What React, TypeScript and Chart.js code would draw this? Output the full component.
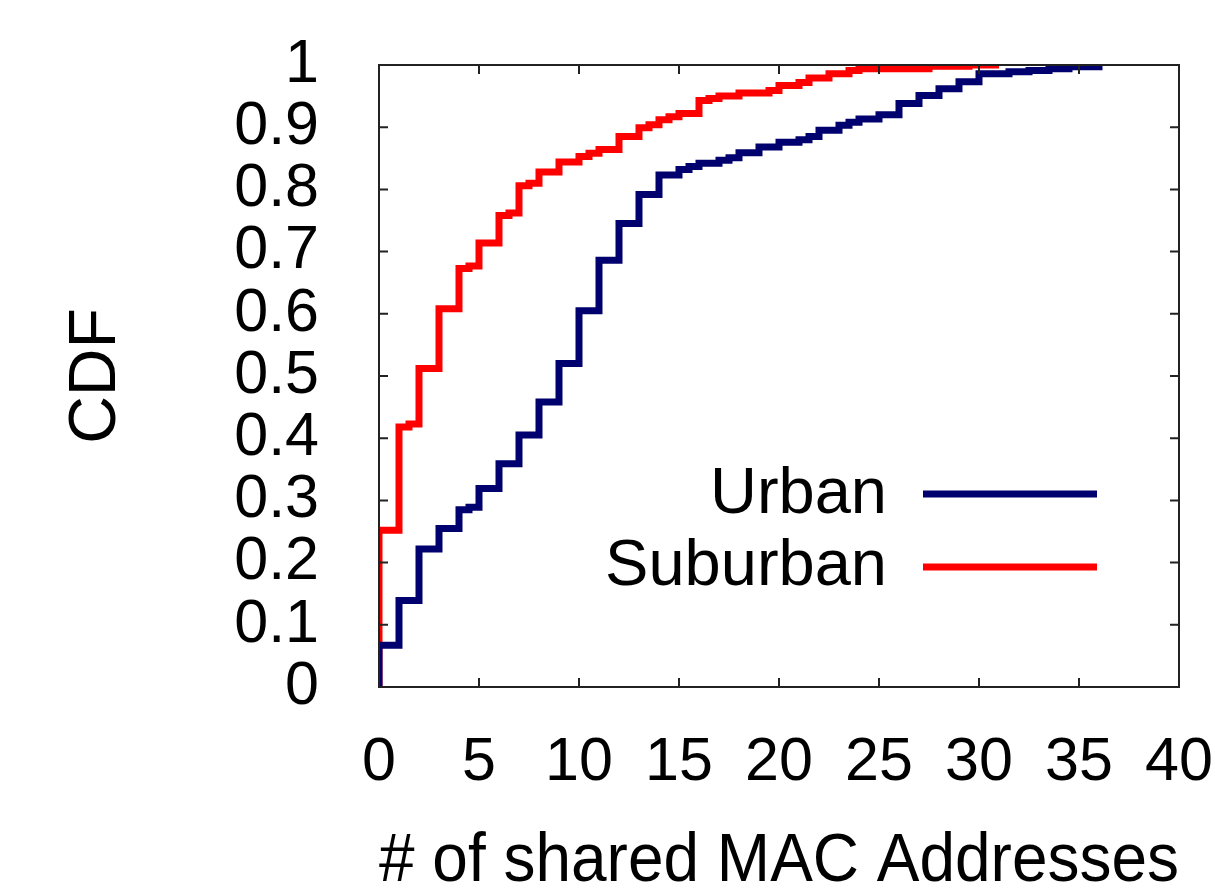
import React, { useEffect, useRef } from 'react';
import { Chart, registerables } from 'chart.js';

Chart.register(...registerables);

const URBAN_X = [0, 0, 1, 2, 3, 4, 4.5, 5, 6, 7, 8, 9, 10, 11, 12, 13, 14, 15, 15.5, 16, 17, 17.5, 18, 19, 20, 21, 21.5, 22, 23, 23.5, 24, 25, 26, 27, 28, 29, 30, 31.5, 32.5, 33.5, 34.5, 36];
const URBAN_Y = [0, 0.067, 0.139, 0.222, 0.255, 0.285, 0.289, 0.319, 0.359, 0.405, 0.458, 0.52, 0.605, 0.686, 0.745, 0.792, 0.823, 0.832, 0.837, 0.842, 0.847, 0.851, 0.859, 0.868, 0.876, 0.88, 0.885, 0.895, 0.903, 0.908, 0.913, 0.92, 0.938, 0.951, 0.962, 0.973, 0.986, 0.989, 0.991, 0.994, 0.997, 1.0];

const SUBURBAN_X = [0, 0, 1, 1.5, 2, 3, 4, 4.5, 5, 6, 6.5, 7, 7.5, 8, 9, 10, 10.5, 11, 12, 13, 13.5, 14, 14.5, 15, 16, 16.5, 17, 18, 19.5, 20, 21, 21.5, 22.5, 23.5, 24, 27.5, 29.5, 31];
const SUBURBAN_Y = [0, 0.252, 0.418, 0.423, 0.512, 0.608, 0.673, 0.677, 0.714, 0.758, 0.762, 0.806, 0.81, 0.828, 0.844, 0.853, 0.858, 0.864, 0.885, 0.899, 0.904, 0.912, 0.917, 0.922, 0.943, 0.946, 0.95, 0.955, 0.959, 0.967, 0.972, 0.979, 0.986, 0.991, 0.994, 0.998, 1.0, 1.0];

const SERIES_LABELS = ['Urban', 'Suburban'];
const SERIES_COLORS = ['#00006e', '#ff0000'];

const X_TICK_LABELS = ['0', '5', '10', '15', '20', '25', '30', '35', '40'];
const Y_TICK_LABELS = ['0', '0.1', '0.2', '0.3', '0.4', '0.5', '0.6', '0.7', '0.8', '0.9', '1'];
const X_TITLE = '# of shared MAC Addresses';
const Y_TITLE = 'CDF';

const FONT = "'Liberation Sans', Arial, Helvetica, sans-serif";

const framePlugin = {
  id: 'frame',
  afterDatasetsDraw(chart: any) {
    const { ctx, chartArea: a, scales } = chart;
    ctx.save();
    ctx.strokeStyle = '#222';
    ctx.lineWidth = 2;
    ctx.strokeRect(a.left, a.top, a.right - a.left, a.bottom - a.top);
    const len = 9;
    ctx.beginPath();
    scales.x.ticks.forEach((t: any) => {
      const px = scales.x.getPixelForValue(t.value);
      ctx.moveTo(px, a.bottom);
      ctx.lineTo(px, a.bottom - len);
      ctx.moveTo(px, a.top);
      ctx.lineTo(px, a.top + len);
    });
    scales.y.ticks.forEach((t: any) => {
      const py = scales.y.getPixelForValue(t.value);
      ctx.moveTo(a.left, py);
      ctx.lineTo(a.left + len, py);
      ctx.moveTo(a.right, py);
      ctx.lineTo(a.right - len, py);
    });
    ctx.stroke();
    ctx.restore();
  },
};

const legendPlugin = {
  id: 'innerLegend',
  afterDatasetsDraw(chart: any) {
    const { ctx } = chart;
    ctx.save();
    ctx.font = `65px ${FONT}`;
    ctx.fillStyle = '#000';
    ctx.textAlign = 'right';
    ctx.textBaseline = 'alphabetic';
    const rows = [
      { textY: 513, lineY: 494 },
      { textY: 585, lineY: 567 },
    ];
    chart.data.datasets.forEach((ds: any, i: number) => {
      const r = rows[i];
      ctx.fillText(ds.label, 887, r.textY);
      ctx.strokeStyle = ds.borderColor;
      ctx.lineWidth = 7;
      ctx.lineCap = 'butt';
      ctx.beginPath();
      ctx.moveTo(923, r.lineY);
      ctx.lineTo(1097, r.lineY);
      ctx.stroke();
    });
    ctx.restore();
  },
};

export default function App() {
  const ref = useRef<HTMLCanvasElement | null>(null);

  useEffect(() => {
    document.body.style.margin = '0';
    const canvas = ref.current;
    if (!canvas) return;
    const toPts = (xs: number[], ys: number[]) => xs.map((x, i) => ({ x, y: ys[i] }));
    const chart = new Chart(canvas, {
      type: 'line',
      data: {
        datasets: [
          {
            label: SERIES_LABELS[0],
            data: toPts(URBAN_X, URBAN_Y),
            borderColor: SERIES_COLORS[0],
            backgroundColor: SERIES_COLORS[0],
            borderWidth: 7,
            pointRadius: 0,
            stepped: 'before',
            fill: false,
            borderCapStyle: 'butt',
            borderJoinStyle: 'miter',
          },
          {
            label: SERIES_LABELS[1],
            data: toPts(SUBURBAN_X, SUBURBAN_Y),
            borderColor: SERIES_COLORS[1],
            backgroundColor: SERIES_COLORS[1],
            borderWidth: 7,
            pointRadius: 0,
            stepped: 'before',
            fill: false,
            borderCapStyle: 'butt',
            borderJoinStyle: 'miter',
          },
        ],
      },
      options: {
        animation: false,
        responsive: false,
        devicePixelRatio: 1,
        layout: { padding: { top: 65, right: 36, left: 0, bottom: 0 } },
        plugins: {
          legend: { display: false },
          tooltip: { enabled: false },
        },
        scales: {
          x: {
            type: 'linear',
            min: 0,
            max: 40,
            grid: { display: false },
            border: { display: false },
            ticks: {
              stepSize: 5,
              padding: 32,
              autoSkip: false,
              color: '#000',
              font: { family: FONT, size: 61 },
              maxRotation: 0,
              callback: (_v: any, i: number) => X_TICK_LABELS[i],
            },
            title: {
              display: true,
              text: X_TITLE,
              color: '#000',
              font: { family: FONT, size: 69, lineHeight: 1 },
              padding: { top: 0, bottom: -4 },
            },
            afterFit: (s: any) => {
              s.height = 205;
              s.paddingLeft = 0;
              s.paddingRight = 0;
            },
          },
          y: {
            type: 'linear',
            min: 0,
            max: 1,
            grid: { display: false },
            border: { display: false },
            ticks: {
              stepSize: 0.1,
              padding: 52,
              autoSkip: false,
              color: '#000',
              font: { family: FONT, size: 61 },
              callback: (_v: any, i: number) => Y_TICK_LABELS[i],
            },
            title: {
              display: true,
              text: Y_TITLE,
              color: '#000',
              font: { family: FONT, size: 66, lineHeight: 1 },
              padding: { top: 64, bottom: 0 },
            },
            afterFit: (s: any) => {
              s.width = 379;
              s.paddingTop = 0;
              s.paddingBottom = 0;
            },
          },
        },
      },
      plugins: [framePlugin, legendPlugin],
    } as any);
    return () => chart.destroy();
  }, []);

  return (
    <div style={{ position: 'absolute', left: 0, top: 0, width: 1215, height: 892, background: '#fff' }}>
      <canvas ref={ref} width={1215} height={892} />
    </div>
  );
}
